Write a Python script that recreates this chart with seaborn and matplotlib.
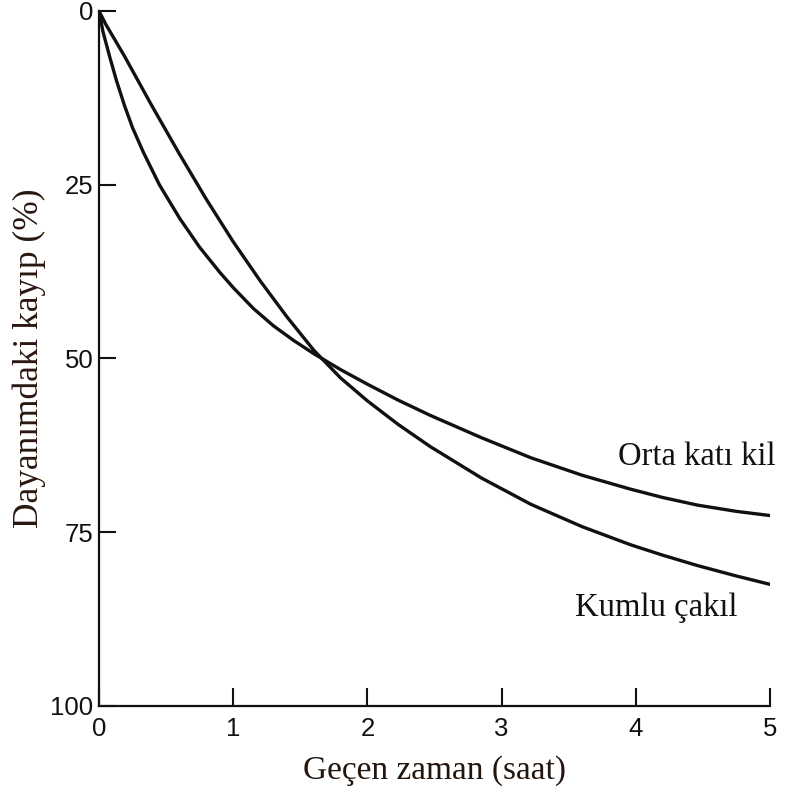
import matplotlib
matplotlib.use("Agg")
import matplotlib.pyplot as plt
import seaborn as sns
import pandas as pd

# --- data ---
orta_x = [0, 0.03, 0.08, 0.13, 0.19, 0.25, 0.33, 0.45, 0.6, 0.75, 0.9, 1.0, 1.15, 1.3,
          1.45, 1.6, 1.8, 2.0, 2.23, 2.47, 2.85, 3.22, 3.6, 3.96, 4.2, 4.46, 4.75, 5.0]
orta_y = [0, 3.0, 6.6, 10.0, 13.6, 16.8, 20.3, 25.0, 29.8, 34.0, 37.6, 39.8, 42.8, 45.3,
          47.4, 49.3, 51.6, 53.7, 56.0, 58.2, 61.4, 64.3, 66.8, 68.8, 70.0, 71.1, 72.0, 72.6]

kumlu_x = [0, 0.05, 0.19, 0.39, 0.6, 0.8, 1.0, 1.2, 1.4, 1.6, 1.8, 2.0, 2.23, 2.47,
           2.85, 3.22, 3.6, 3.96, 4.2, 4.46, 4.75, 5.0]
kumlu_y = [0, 1.9, 6.5, 13.5, 20.6, 27.1, 33.2, 38.8, 44.0, 48.8, 52.8, 56.1, 59.5, 62.7,
           67.2, 71.0, 74.2, 76.8, 78.3, 79.8, 81.3, 82.5]

series_names = ["Orta katı kil", "Kumlu çakıl"]
x_ticks = [0, 1, 2, 3, 4, 5]
y_ticks = [0, 25, 50, 75, 100]
x_label = "Geçen zaman (saat)"
y_label = "Dayanımdaki kayıp (%)"

df = pd.concat([
    pd.DataFrame({"x": orta_x, "y": orta_y, "seri": series_names[0]}),
    pd.DataFrame({"x": kumlu_x, "y": kumlu_y, "seri": series_names[1]}),
], ignore_index=True)

sns.set_theme(style="ticks")
plt.rcParams["font.family"] = ["Liberation Sans", "DejaVu Sans"]

fig = plt.figure(figsize=(7.9, 7.96), dpi=100)
ax = fig.add_axes([0.1253, 0.1131, 0.8494, 0.8731])

sns.lineplot(data=df, x="x", y="y", hue="seri", palette=["#111111", "#111111"],
             sort=False, linewidth=2.4, legend=False, ax=ax)

ax.set_xlim(0, 5)
ax.set_ylim(100, 0)
ax.set_xticks(x_ticks)
ax.set_yticks(y_ticks)
ax.set_xticklabels([str(v) for v in x_ticks])
ax.set_yticklabels([str(v) for v in y_ticks])

for s in ["top", "right"]:
    ax.spines[s].set_visible(False)
for s in ["left", "bottom"]:
    ax.spines[s].set_linewidth(1.6)
    ax.spines[s].set_color("#111111")

ax.tick_params(axis="x", direction="in", length=13, width=1.5, pad=8,
               labelsize=18.5, colors="#111111")
ax.tick_params(axis="y", direction="in", length=12, width=1.5, pad=4,
               labelsize=18.5, colors="#111111")

serif = ["Liberation Serif", "DejaVu Serif"]
ax.set_xlabel(x_label, fontsize=24, family=serif, color="#22160f", labelpad=10)
ax.set_ylabel(y_label, fontsize=25.5, family=serif, color="#2a1810", labelpad=3)

ax.text(3.87, 64.2, series_names[0], fontsize=23.5, family=serif,
        color="#111111", va="center", ha="left")
ax.text(3.55, 85.8, series_names[1], fontsize=23.5, family=serif,
        color="#111111", va="center", ha="left")

fig.savefig("out.png", dpi=100)
